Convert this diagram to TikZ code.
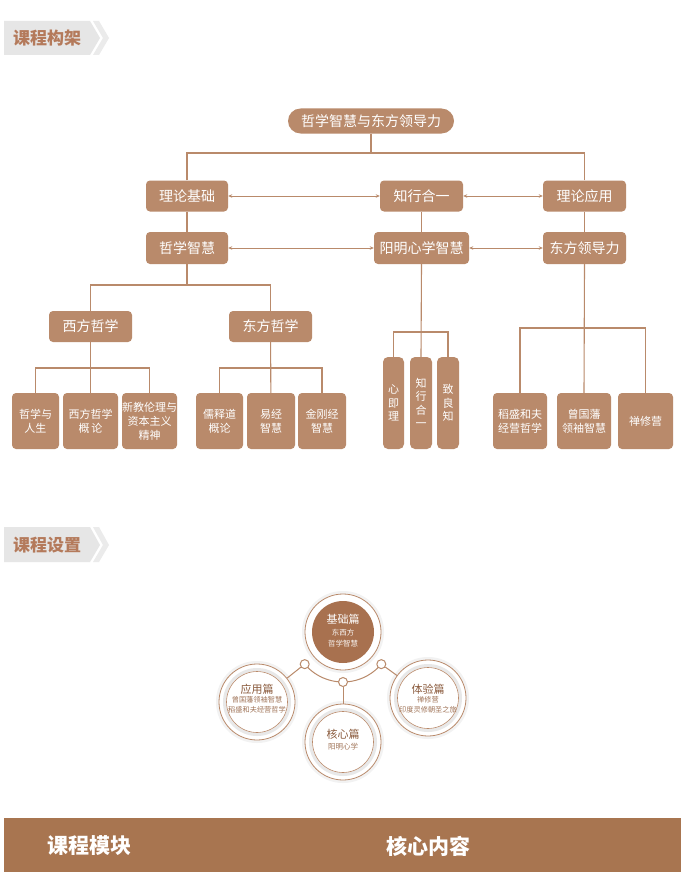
\documentclass[tikz,border=0pt]{standalone}
\usepackage{fontspec}
\setmainfont{Noto Sans CJK SC}
\usetikzlibrary{arrows.meta,calc}
\definecolor{boxc}{HTML}{B98A6B}
\definecolor{linec}{HTML}{B98A6B}
\definecolor{headt}{HTML}{B47A5B}
\definecolor{darkc}{HTML}{A8714F}
\definecolor{barc}{HTML}{A87550}
\definecolor{tagc}{HTML}{E6E6E6}
\definecolor{ctitle}{HTML}{8A5A3C}
\definecolor{csub}{HTML}{A07458}
\tikzset{
  fs/.style={font=\fontsize{#1}{#1}\selectfont},
  box/.style={fill=boxc, rounded corners=4pt, text=white, inner sep=0pt, fs=14, minimum width=82pt, minimum height=31pt},
  leaf/.style={fill=boxc, rounded corners=4pt, text=white, inner sep=0pt, font=\fontsize{11}{14}\selectfont, align=center, minimum height=56pt},
  vleaf/.style={fill=boxc, rounded corners=5pt, text=white, inner sep=0pt, font=\fontsize{11}{13.5}\selectfont, align=center, minimum height=92pt, minimum width=22pt},
  conn/.style={draw=linec, line width=1.1pt},
  dbl/.style={conn, line width=0.8pt, {Stealth[length=4pt,width=3.5pt]}-{Stealth[length=4pt,width=3.5pt]}},
  tagtext/.style={text=headt, font=\bfseries\fontsize{17}{17}\selectfont},
  ring/.style={circle, draw=linec, line width=0.8pt, fill=white, minimum size=76pt, inner sep=0pt},
  dotc/.style={circle, draw=linec, line width=1pt, fill=white, minimum size=9pt, inner sep=0pt},
}
\begin{document}
\begin{tikzpicture}[x=1pt,y=-1pt]
\useasboundingbox (0,0) rectangle (685,872);
\fill[white] (0,0) rectangle (685,872);

% ---------- header 1 ----------
\fill[tagc] (4,21) -- (90,21) -- (100,38) -- (90,55) -- (4,55) -- cycle;
\fill[tagc!80] (93,21) -- (99,21) -- (109,38) -- (99,55) -- (93,55) -- (103,38) -- cycle;
\node[tagtext] (h1) at (47,38) {课程构架};

% ---------- tree ----------
\node[box, rounded corners=12.5pt, minimum width=166pt, minimum height=25pt] (top) at (371,121) {哲学智慧与东方领导力};
\node[box] (lljc) at (187,196) {理论基础};
\node[box, minimum width=83pt] (zxhy) at (421.5,196) {知行合一};
\node[box, minimum width=83pt] (llyy) at (584.5,196) {理论应用};
\node[box, minimum height=32pt] (zxzh) at (187,248) {哲学智慧};
\node[box, minimum width=95pt, minimum height=32pt] (ymxx) at (421.5,248) {阳明心学智慧};
\node[box, minimum width=83pt, minimum height=32pt] (dfld) at (584.5,248) {东方领导力};
\node[box, minimum width=83pt] (xfzx) at (90.5,326.5) {西方哲学};
\node[box, minimum width=83pt] (dfzx) at (270.5,326.5) {东方哲学};

\node[leaf, minimum width=47pt] (c1) at (35.5,421) {哲学与\\人生};
\node[leaf, minimum width=55pt] (c2) at (90.5,421) {西方哲学\\概\,论};
\node[leaf, minimum width=55pt] (c3) at (149.5,421) {新教伦理与\\资本主义\\精神};
\node[leaf, minimum width=47pt] (c4) at (219.5,421) {儒释道\\概论};
\node[leaf, minimum width=48pt] (c5) at (271,421) {易经\\智慧};
\node[leaf, minimum width=48pt] (c6) at (322,421) {金刚经\\智慧};

\node[vleaf, minimum width=21pt] (v1) at (393.5,403) {心\\即\\理};
\node[vleaf] (v2) at (421,403) {知\\行\\合\\一};
\node[vleaf] (v3) at (448,403) {致\\良\\知};

\node[leaf, minimum width=54pt] (r1) at (520,421) {稻盛和夫\\经营哲学};
\node[leaf, minimum width=54pt] (r2) at (584,421) {曾国藩\\领袖智慧};
\node[leaf, minimum width=55pt] (r3) at (645.5,421) {禅修营};

\coordinate (j1) at (371,153);
\coordinate (j2) at (187,285);
\coordinate (j3) at (90.5,368);
\coordinate (j4) at (270.5,368);
\coordinate (j5) at (421,332);
\coordinate (j6) at (584,328);

\draw[conn] (top) -- (j1);
\draw[conn] (lljc.north) |- (j1);
\draw[conn] (llyy.north) |- (j1);
\draw[conn] (lljc) -- (zxzh);
\draw[conn] (zxhy) -- (ymxx);
\draw[conn] (llyy) -- (dfld);
\draw[dbl] (lljc) -- (zxhy);
\draw[dbl] (zxhy) -- (llyy);
\draw[dbl] (zxzh) -- (ymxx);
\draw[dbl] (ymxx) -- (dfld);

\draw[conn] (zxzh) -- (j2);
\draw[conn] (xfzx.north) |- (j2);
\draw[conn] (dfzx.north) |- (j2);

\draw[conn] (xfzx) -- (c2);
\draw[conn] (c1.north) |- (j3);
\draw[conn] (c3.north) |- (j3);
\draw[conn] (dfzx) -- (c5);
\draw[conn] (c4.north) |- (j4);
\draw[conn] (c6.north) |- (j4);

\draw[conn] (ymxx.south) -- (v2.north);
\draw[conn] (v1.north) |- (j5);
\draw[conn] (v3.north) |- (j5);
\draw[conn] (dfld.south) -- (r2.north);
\draw[conn] (r1.north) |- (j6);
\draw[conn] (r3.north) |- (j6);

% ---------- header 2 ----------
\fill[tagc] (4,527) -- (90,527) -- (100,545) -- (90,562) -- (4,562) -- cycle;
\fill[tagc!80] (93,527) -- (99,527) -- (109,545) -- (99,562) -- (93,562) -- (103,545) -- cycle;
\node[tagtext] (h2) at (47,545) {课程设置};

% ---------- circles ----------
\foreach \cx/\cy in {343/632, 257/702, 343/742, 428/698}{
  \fill[gray!10] (\cx,\cy) circle (41);
}
\node[ring] (jc) at (343,632) {};
\node[ring] (yy) at (257,702) {};
\node[ring] (hx) at (343,742) {};
\node[ring] (ty) at (428,698) {};
\foreach \n in {yy,hx,ty}{
  \draw[gray!18, line width=3pt] (\n.center) circle (32.5);
  \draw[linec, line width=0.6pt] (\n.center) circle (30.5);
}
\fill[darkc] (jc.center) circle (31);

\draw[conn, line width=1pt] (jc.center) ++(140:50) arc[start angle=140, end angle=40, radius=50];
\node[dotc] (d1) at ($(343,632)+(140:50)$) {};
\node[dotc] (d2) at (343,682) {};
\node[dotc] (d3) at ($(343,632)+(40:50)$) {};
\draw[conn, line width=1pt] (d1) -- (yy);
\draw[conn, line width=1pt] (d2) -- (hx);
\draw[conn, line width=1pt] (d3) -- (ty);

\node[text=white, fs=11] (t1) at (343,619) {基础篇};
\node[text=white!92!darkc, fs=7.5] (t1a) at (343,633) {东西方};
\node[text=white!92!darkc, fs=7.5] (t1b) at (343,644) {哲学智慧};

\node[text=ctitle, fs=11] (t2) at (257,689) {应用篇};
\node[text=csub, fs=7.2] (t2a) at (257,700) {曾国藩领袖智慧};
\node[text=csub, fs=7.2] (t2b) at (257,710) {稻盛和夫经营哲学};

\node[text=ctitle, fs=11] (t3) at (428,689) {体验篇};
\node[text=csub, fs=7.2] (t3a) at (428,700) {禅修营};
\node[text=csub, fs=7.2] (t3b) at (428,710) {印度灵修朝圣之旅};

\node[text=ctitle, fs=11] (t4) at (343,734) {核心篇};
\node[text=csub, fs=7.5] (t4a) at (343,747) {阳明心学};

% ---------- bottom bar ----------
\fill[barc] (4,818) rectangle (681,872);
\node[text=white, font=\bfseries\fontsize{21}{21}\selectfont] (b1) at (89,846) {课程模块};
\node[text=white, font=\bfseries\fontsize{21}{21}\selectfont] (b2) at (428,846) {核心内容};
\end{tikzpicture}
\end{document}
